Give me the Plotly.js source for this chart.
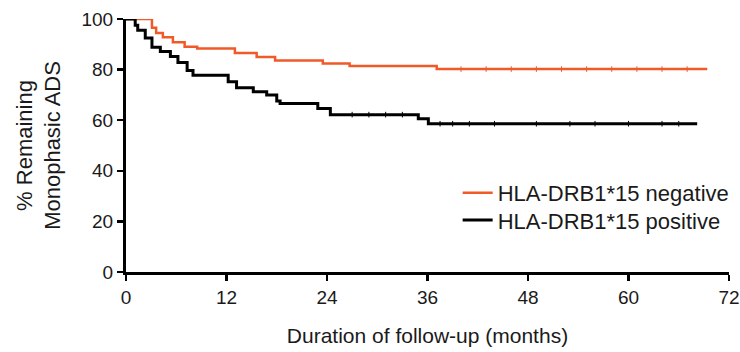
<!DOCTYPE html>
<html><head><meta charset="utf-8">
<script src="https://cdn.plot.ly/plotly-3.0.1.min.js"></script>
<style>html,body{margin:0;padding:0;background:#fff}#chart{width:740px;height:352px}</style>
</head><body><div id="chart"></div>
<script>
// Kaplan-Meier step data (time in months, % remaining monophasic)
const negTimes = [0, 3.1, 3.6, 4.4, 5.6, 7.0, 8.5, 13.0, 15.6, 17.8, 23.5, 26.7, 37.1, 69.4];
const negSurv  = [100, 96.5, 94.5, 92.8, 90.8, 89.0, 88.3, 86.6, 85.0, 83.6, 82.4, 81.4, 80.2, 80.2];
const posTimes = [0, 1.1, 1.4, 2.3, 3.1, 4.1, 5.3, 6.2, 7.3, 8.0, 12.2, 13.2, 15.2, 16.8, 18.0, 18.4, 22.9, 24.4, 34.9, 36.1, 68.2];
const posSurv  = [100, 97.5, 95.6, 92.5, 88.8, 87.2, 85.2, 82.8, 79.6, 77.8, 75.2, 72.8, 71.2, 70.0, 67.6, 66.6, 64.6, 62.2, 60.6, 58.6, 58.6];
const negCensor = [40, 43, 46, 49, 52, 55, 58, 61, 64, 67];
const posCensor = [27, 29, 31, 33, 37.5, 39, 41, 44, 49, 53, 56, 60, 64, 66];
const seriesNames = ["HLA-DRB1*15 negative", "HLA-DRB1*15 positive"];
const xTicks = [0, 12, 24, 36, 48, 60, 72];
const yTicks = [0, 20, 40, 60, 80, 100];

function stepAt(times, surv, t){ let v = surv[0]; for(let i=0;i<times.length;i++){ if(times[i] <= t) v = surv[i]; } return v; }

const RED = "#f05a28", BLK = "#000000";
const traces = [
  {x: negTimes, y: negSurv, type: "scatter", mode: "lines", line: {shape: "hv", color: RED, width: 2.5}, name: seriesNames[0], cliponaxis: false, legend: "legend"},
  {x: posTimes, y: posSurv, type: "scatter", mode: "lines", line: {shape: "hv", color: BLK, width: 3}, name: seriesNames[1], cliponaxis: false, legend: "legend2"},
  {x: negCensor, y: negCensor.map(t => stepAt(negTimes, negSurv, t)), type: "scatter", mode: "markers", marker: {symbol: "line-ns", size: 4, line: {color: RED, width: 1}}, showlegend: false, hoverinfo: "skip"},
  {x: posCensor, y: posCensor.map(t => stepAt(posTimes, posSurv, t)), type: "scatter", mode: "markers", marker: {symbol: "line-ns", size: 4, line: {color: BLK, width: 1}}, showlegend: false, hoverinfo: "skip"}
];

const legBase = {xanchor: "left", yanchor: "middle", bgcolor: "rgba(0,0,0,0)", font: {size: 22, color: "#1a1a1a"}, borderwidth: 0};
const layout = {
  width: 740, height: 352,
  margin: {l: 126, r: 11, t: 19, b: 80, autoexpand: false},
  paper_bgcolor: "#fff", plot_bgcolor: "#fff",
  font: {family: "Liberation Sans, Arial, sans-serif", color: "#1a1a1a", size: 19},
  showlegend: true,
  legend: Object.assign({x: 0.55, y: 0.312}, legBase),
  legend2: Object.assign({x: 0.55, y: 0.205}, legBase),
  xaxis: {
    range: [0, 72], tickvals: xTicks, ticktext: xTicks.map(String), automargin: false,
    showgrid: false, zeroline: false, showline: true, linecolor: "#000", linewidth: 3,
    ticks: "outside", ticklen: 6, tickwidth: 2.5, tickcolor: "#000",
    tickfont: {size: 19, color: "#1a1a1a"},
    title: {text: "Duration of follow-up (months)", font: {size: 21, color: "#1a1a1a"}, standoff: 22}
  },
  yaxis: {
    range: [0, 100], tickvals: yTicks, ticktext: yTicks.map(String), automargin: false,
    showgrid: false, zeroline: false, showline: true, linecolor: "#000", linewidth: 3,
    ticks: "outside", ticklen: 6, tickwidth: 2.5, tickcolor: "#000",
    tickfont: {size: 19, color: "#1a1a1a"},
    title: {text: "% Remaining<br>Monophasic ADS", font: {size: 22, color: "#1a1a1a"}, standoff: 15}
  }
};
Plotly.newPlot("chart", traces, layout, {displayModeBar: false, staticPlot: true});
</script></body></html>
